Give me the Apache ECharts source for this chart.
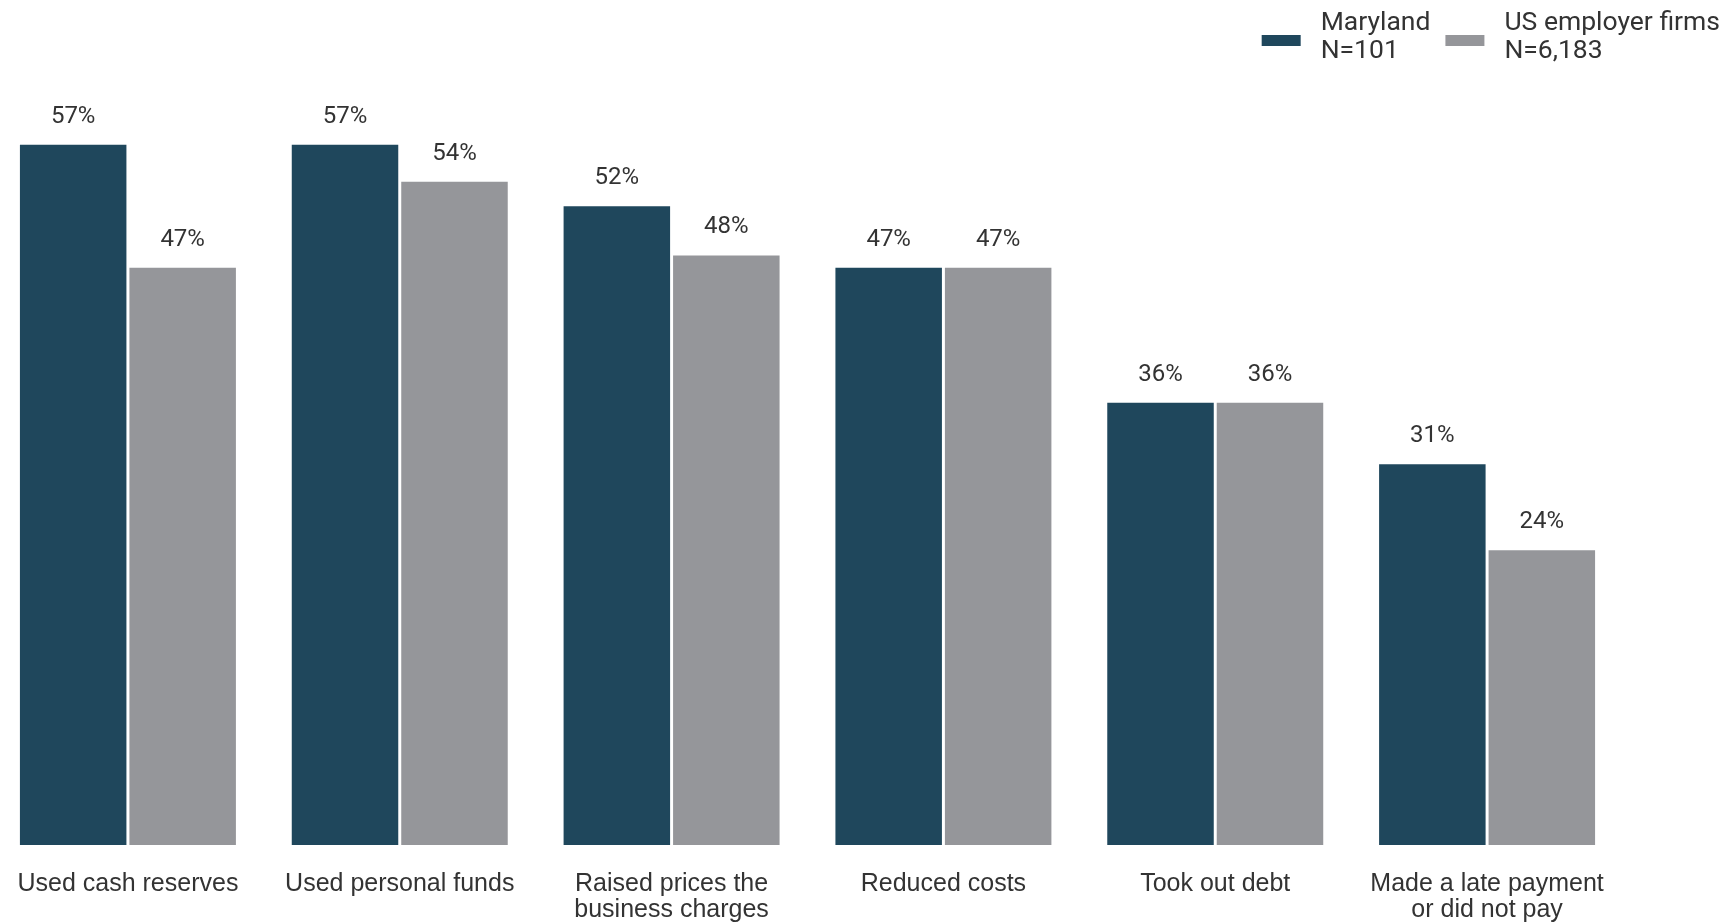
<!DOCTYPE html>
<html>
<head>
<meta charset="utf-8">
<script src="https://cdn.jsdelivr.net/npm/echarts@6/dist/echarts.min.js"></script>
<style>
  html, body { margin: 0; padding: 0; background: #ffffff; }
  #chart { width: 1732px; height: 924px; }
</style>
</head>
<body>
<div id="chart"></div>
<script>
// Actions taken in response to financial challenges (share of firms, %)
const categories = [
  'Used cash reserves',
  'Used personal funds',
  'Raised prices the\nbusiness charges',
  'Reduced costs',
  'Took out debt',
  'Made a late payment\nor did not pay'
];
const seriesNames = ['Maryland', 'US employer firms'];
const sampleSizes = ['N=101', 'N=6,183'];
const marylandValues = [57, 57, 52, 47, 36, 31];
const usValues = [47, 54, 48, 47, 36, 24];

const colors = ['#1f475c', '#95969a'];

const chart = echarts.init(document.getElementById('chart'), null, { renderer: 'canvas' });

function barSeries(name, values, color) {
  return {
    name: name,
    type: 'bar',
    data: values,
    barWidth: 106.5,
    barGap: '2.8%',
    itemStyle: { color: color },
    label: {
      show: true,
      position: 'top',
      distance: 16,
      formatter: '{c}%',
      fontFamily: 'Roboto',
      fontSize: 24,
      color: '#333333'
    }
  };
}

chart.setOption({
  backgroundColor: '#ffffff',
  animation: false,
  color: colors,
  legend: {
    right: 7,
    top: 5,
    itemWidth: 39,
    itemHeight: 11,
    itemGap: 15,
    icon: 'rect',
    data: seriesNames,
    // two text lines plus a short spacer line, so the swatch sits low beside the text
    formatter: function (name) {
      return '{t|' + name + '}\n{t|' + sampleSizes[seriesNames.indexOf(name)] + '}\n{s| }';
    },
    textStyle: {
      padding: [0, 0, 0, 15],
      rich: {
        t: {
          fontFamily: 'Roboto',
          fontSize: 26.5,
          lineHeight: 28,
          color: '#333333'
        },
        s: {
          fontSize: 2,
          lineHeight: 6
        }
      }
    }
  },
  grid: {
    left: -8,
    width: 1631,
    top: 108,
    bottom: 79,
    outerBoundsMode: 'none',
    containLabel: false
  },
  xAxis: {
    type: 'category',
    data: categories,
    axisLine: { show: false },
    axisTick: { show: false },
    axisLabel: {
      interval: 0,
      margin: 26,
      fontFamily: 'Liberation Sans',
      fontSize: 25,
      lineHeight: 26,
      color: '#333333'
    }
  },
  yAxis: {
    type: 'value',
    min: 0,
    max: 60,
    show: false,
    splitLine: { show: false }
  },
  series: [
    barSeries(seriesNames[0], marylandValues, colors[0]),
    barSeries(seriesNames[1], usValues, colors[1])
  ]
});
</script>
</body>
</html>
